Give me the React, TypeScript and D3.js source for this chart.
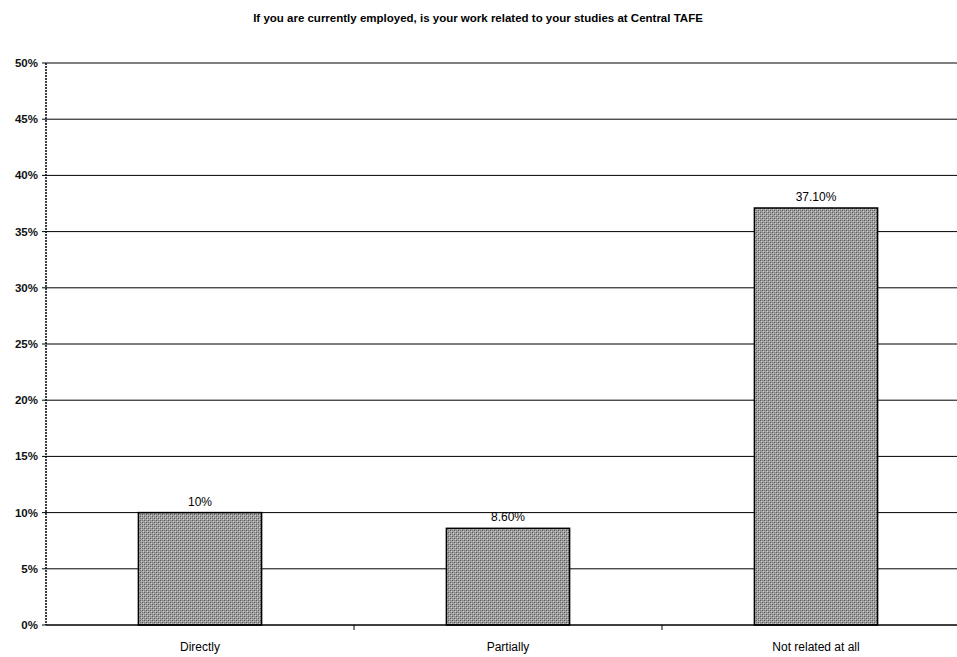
import React from "react";
import * as d3 from "d3";

const categories = ["Directly", "Partially", "Not related at all"];
const values = [10, 8.6, 37.1];
const valueLabels = ["10%", "8.60%", "37.10%"];
const yTicks = [0, 5, 10, 15, 20, 25, 30, 35, 40, 45, 50];
const title = "If you are currently employed, is your work related to your studies at Central TAFE";

const W = 957;
const H = 657;
const left = 46;
const top = 63;
const bottom = 625;

export default function App() {
  const y = d3.scaleLinear().domain([0, 50]).range([bottom, top]);
  const x = d3.scaleBand<string>().domain(categories).range([left, 970]).paddingInner(0.6).paddingOuter(0.3);
  const bandStep = x.step();
  const font = "Arial, 'Liberation Sans', sans-serif";

  return (
    <svg width={W} height={H} style={{ position: "absolute", left: 0, top: 0, background: "#fff" }}>
      <defs>
        <pattern id="dither" width="4" height="4" patternUnits="userSpaceOnUse">
          <rect width="4" height="4" fill="#a2a2a2" />
          <rect x="0" y="0" width="1" height="1" fill="#555" />
          <rect x="2" y="2" width="1" height="1" fill="#555" />
          <rect x="2" y="0" width="1" height="1" fill="#7a7a7a" />
          <rect x="0" y="2" width="1" height="1" fill="#7a7a7a" />
          <rect x="1" y="1" width="1" height="1" fill="#d0d0d0" />
          <rect x="3" y="3" width="1" height="1" fill="#d0d0d0" />
        </pattern>
      </defs>
      <text x={478} y={22} textAnchor="middle" fontFamily={font} fontWeight="bold" fontSize={11.5} fill="#000">
        {title}
      </text>
      {yTicks.map((t) => (
        <g key={t}>
          {t > 0 && (
            <line x1={left} x2={W} y1={y(t)} y2={y(t)} stroke="#000" strokeWidth={1} />
          )}
          <line x1={left - 4} x2={left} y1={y(t)} y2={y(t)} stroke="#000" strokeWidth={1} />
          <text x={38} y={y(t) + 4} textAnchor="end" fontFamily={font} fontWeight="bold" fontSize={11.5} fill="#111">
            {t}%
          </text>
        </g>
      ))}
      {categories.map((c, i) => {
        const bx = x(c)!;
        const bw = x.bandwidth();
        return (
          <g key={c}>
            <rect x={bx} y={y(values[i])} width={bw} height={y(0) - y(values[i])} fill="url(#dither)" stroke="#000" strokeWidth={1.5} />
            <text x={bx + bw / 2} y={y(values[i]) - 7} textAnchor="middle" fontFamily={font} fontSize={12} fill="#000">
              {valueLabels[i]}
            </text>
            <text x={bx + bw / 2} y={651} textAnchor="middle" fontFamily={font} fontSize={12} fill="#000">
              {c}
            </text>
          </g>
        );
      })}
      {[1, 2].map((k) => (
        <line key={k} x1={left + bandStep * k} x2={left + bandStep * k} y1={bottom} y2={bottom + 5} stroke="#000" />
      ))}
      <line x1={left} x2={W} y1={bottom} y2={bottom} stroke="#000" strokeWidth={1.5} />
      <line x1={left} x2={left} y1={top} y2={bottom} stroke="#000" strokeWidth={1.5} strokeDasharray="2 1" />
    </svg>
  );
}
